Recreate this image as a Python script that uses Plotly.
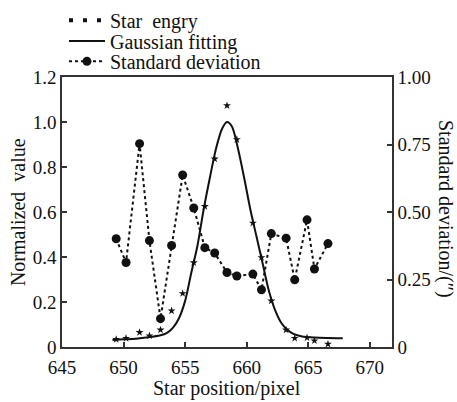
import plotly.graph_objects as go

# Data
pixel_pos = [649.4, 650.2, 651.3, 652.1, 653.0, 653.9, 654.8, 655.7, 656.6, 657.4,
             658.4, 659.2, 660.5, 661.2, 662.0, 663.2, 663.9, 664.9, 665.5, 666.6]
star_energy = [0.034, 0.039, 0.065, 0.050, 0.076, 0.161, 0.238, 0.375, 0.625, 0.836,
               1.073, 0.922, 0.551, 0.398, 0.205, 0.076, 0.039, 0.041, 0.028, 0.013]
std_dev = [0.401, 0.313, 0.753, 0.394, 0.105, 0.376, 0.637, 0.515, 0.368, 0.348,
           0.276, 0.263, 0.270, 0.212, 0.420, 0.403, 0.249, 0.471, 0.289, 0.383]

# Gaussian fitting curve
fit_x = [649.1, 650.0, 651.0, 652.0, 653.0, 653.5, 654.0, 654.5, 655.0, 655.5, 656.0,
         656.5, 657.0, 657.5, 658.0, 658.4, 658.8, 659.3, 659.8, 660.3, 660.8, 661.3,
         661.8, 662.3, 662.8, 663.3, 663.8, 664.5, 665.5, 666.5, 667.8]
fit_y = [0.031, 0.034, 0.037, 0.043, 0.052, 0.062, 0.085, 0.128, 0.205, 0.33, 0.45,
         0.61, 0.75, 0.88, 0.97, 1.0, 0.98, 0.88, 0.75, 0.61, 0.49, 0.37,
         0.25, 0.165, 0.108, 0.077, 0.058, 0.047, 0.042, 0.040, 0.039]

x_ticks = [645, 650, 655, 660, 665, 670]
y_ticks = [0, 0.2, 0.4, 0.6, 0.8, 1.0, 1.2]
y_ticktext = ["0", "0.2", "0.4", "0.6", "0.8", "1.0", "1.2"]
y2_ticks = [0, 0.25, 0.5, 0.75, 1.0]
y2_ticktext = ["0", "0.25", "0.50", "0.75", "1.00"]

FONT = "Liberation Serif"
INK = "#111111"
AX = "#333333"
TXT = 20

fig = go.Figure()

# legend-only entry for star energy (three dots)
fig.add_trace(go.Scatter(x=[None], y=[None], mode="lines", name="Star  engry",
                         legend="legend",
                         line=dict(color=INK, width=4, dash="4px,10px")))
fig.add_trace(go.Scatter(x=pixel_pos, y=star_energy, mode="markers", showlegend=False,
                         marker=dict(symbol="star", size=6, color=INK)))
fig.add_trace(go.Scatter(x=fit_x, y=fit_y, mode="lines", name="Gaussian fitting",
                         legend="legend2",
                         line=dict(color=INK, width=2, shape="spline", smoothing=0.8)))
fig.add_trace(go.Scatter(x=pixel_pos, y=std_dev, mode="lines+markers", yaxis="y2",
                         name="Standard deviation", legend="legend3",
                         line=dict(color=INK, width=2, dash="dot"),
                         marker=dict(symbol="circle", size=9, color=INK)))

leg_common = dict(x=0.006, xanchor="left", yanchor="middle", bgcolor="rgba(0,0,0,0)",
                  font=dict(family=FONT, size=TXT, color=INK), itemwidth=36)

fig.update_layout(
    width=457, height=402,
    margin=dict(l=62, r=65, t=77, b=55, autoexpand=False),
    paper_bgcolor="white", plot_bgcolor="white",
    font=dict(family=FONT, size=19, color=INK),
    showlegend=True,
    legend=dict(y=1.21, **leg_common),
    legend2=dict(y=1.133, **leg_common),
    legend3=dict(y=1.058, **leg_common),
    xaxis=dict(range=[645, 671.8], tickvals=x_ticks, ticks="inside", ticklen=5,
               tickwidth=1.5, tickcolor=AX, showline=True, linecolor=AX, linewidth=1.5,
               mirror=True, showgrid=False, zeroline=False, ticklabelstandoff=2,
               tickfont=dict(family=FONT, size=19, color=INK)),
    yaxis=dict(range=[0, 1.2], tickvals=y_ticks, ticktext=y_ticktext, ticks="inside",
               ticklen=5, tickwidth=1.5, tickcolor=AX, showline=True, linecolor=AX,
               linewidth=1.5, showgrid=False, zeroline=False,
               tickfont=dict(family=FONT, size=19, color=INK)),
    yaxis2=dict(range=[0, 1.0], tickvals=y2_ticks, ticktext=y2_ticktext, overlaying="y",
                side="right", ticks="inside", ticklen=5, tickwidth=1.5, tickcolor=AX,
                showline=True, linecolor=AX, linewidth=1.5, showgrid=False,
                zeroline=False, tickfont=dict(family=FONT, size=19, color=INK)),
    annotations=[
        dict(text="Normalized  value", xref="paper", yref="paper", x=-0.133, y=0.5,
             xanchor="center", yanchor="middle", textangle=-90, showarrow=False,
             font=dict(family=FONT, size=TXT, color=INK)),
        dict(text="Standard deviation/(\u2033)", xref="paper", yref="paper", x=1.16,
             y=0.512, xanchor="center", yanchor="middle", textangle=90, showarrow=False,
             font=dict(family=FONT, size=TXT, color=INK)),
        dict(text="Star position/pixel", xref="paper", yref="paper", x=0.5, y=-0.152,
             xanchor="center", yanchor="middle", showarrow=False,
             font=dict(family=FONT, size=TXT, color=INK)),
    ],
)

fig.write_html("out.html", config={"displayModeBar": False},
               post_script="document.body.style.margin='0';document.body.style.overflow='hidden';")
